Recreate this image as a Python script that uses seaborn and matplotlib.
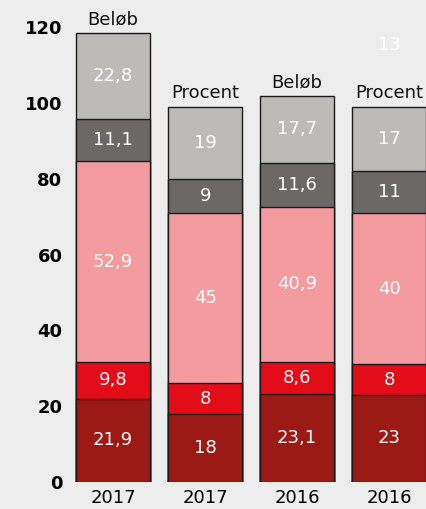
import numpy as np
import pandas as pd
import matplotlib
matplotlib.use("agg")
import matplotlib.pyplot as plt
import seaborn as sns

# data, bottom segment first
bar_keys = ["b1", "b2", "b3", "b4"]
year_labels = ["2017", "2017", "2016", "2016"]
top_labels = ["Beløb", "Procent", "Beløb", "Procent"]
seg_dark_red = [21.9, 18, 23.1, 23]
seg_red = [9.8, 8, 8.6, 8]
seg_pink = [52.9, 45, 40.9, 40]
seg_dark_gray = [11.1, 9, 11.6, 11]
seg_light_gray = [22.8, 19, 17.7, 17]
segments = [seg_dark_red, seg_red, seg_pink, seg_dark_gray, seg_light_gray]
seg_colors = ["#9b1a16", "#e20d18", "#f39b9e", "#6c6866", "#bdbbb8"]
stray_label = "13"
stray_y = 115.3

bg = "#ededed"
sns.set_style("white")
plt.rcParams["font.family"] = ["DejaVu Sans"]

fig = plt.figure(figsize=(4.26, 5.09), dpi=100, facecolor=bg)
ax = fig.add_axes([68 / 426, 27 / 509, 1 - 68 / 426, 455 / 509])
ax.set_facecolor(bg)

vals = np.array(segments, dtype=float)
cum = np.cumsum(vals, axis=0)

# draw cumulative totals from the top layer down so they stack
for i in range(len(segments) - 1, -1, -1):
    df = pd.DataFrame({"bar": bar_keys, "total": cum[i]})
    sns.barplot(data=df, x="bar", y="total", color=seg_colors[i], saturation=1,
                width=0.8, edgecolor="#1a1a1a", linewidth=1, ax=ax, order=bar_keys)

# value labels
for i, seg in enumerate(segments):
    for j, v in enumerate(seg):
        mid = cum[i][j] - v / 2
        txt = f"{v:g}".replace(".", ",")
        ax.text(j, mid, txt, ha="center", va="center", color="white", fontsize=13)

# labels above bars
for j, lab in enumerate(top_labels):
    ax.annotate(lab, (j, cum[-1][j]), xytext=(0, 3), textcoords="offset points",
                ha="center", va="bottom", fontsize=13, color="#111111",
                annotation_clip=False)

ax.text(3, stray_y, stray_label, ha="center", va="center", color="white", fontsize=13)

ax.set_xlim(-0.49, 3.4)
ax.set_ylim(0, 120)
ax.set_yticks(range(0, 121, 20))
ax.set_yticklabels([str(t) for t in range(0, 121, 20)], fontweight="bold", fontsize=13)
ax.set_xticks(range(4))
ax.set_xticklabels(year_labels, fontsize=13)
ax.tick_params(axis="both", length=0, labelcolor="black")
ax.tick_params(axis="y", pad=4)
ax.tick_params(axis="x", pad=5)
ax.set_xlabel("")
ax.set_ylabel("")
for s in ax.spines.values():
    s.set_visible(False)

fig.savefig("out.png", dpi=100, facecolor=bg)
